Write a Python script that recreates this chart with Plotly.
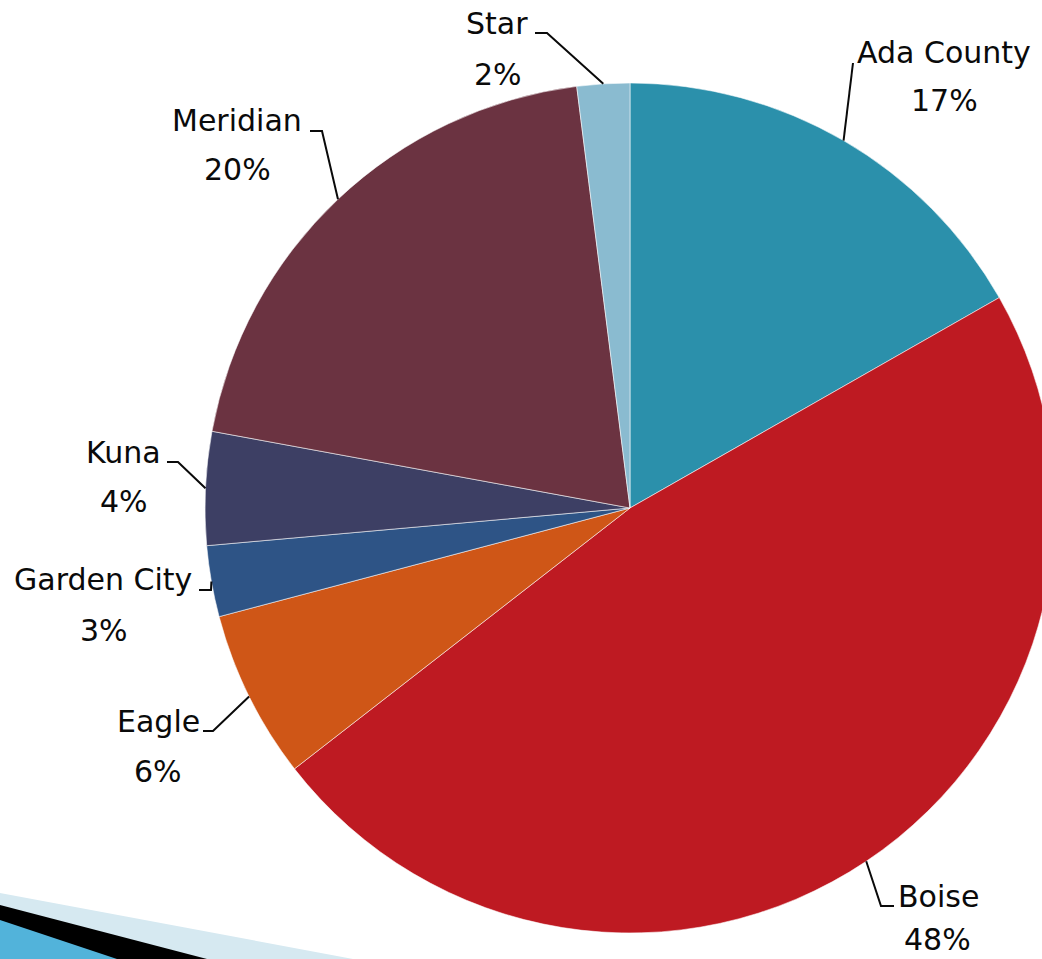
import math
import plotly.graph_objects as go

# ---- data ----
categories = ["Ada County", "Boise", "Eagle", "Garden City", "Kuna", "Meridian", "Star"]
values = [16.75, 47.7, 6.4, 2.7, 4.3, 20.1, 2.0]
colors = ["#2B90AB", "#BE1A22", "#CF5617", "#2E5486", "#3D3F64", "#6B3341", "#8ABBD0"]

# ---- layout geometry (pixels) ----
W, H = 1055, 959
CX, CY, R = 630, 508, 425  # pie centre / radius in page pixels (top-left origin)

# label placement: (label centre, percent centre, leader start, elbow or None)
label_pos = {
    "Ada County": ((944, 52), (944, 101), (853, 63), None),
    "Boise": ((938, 896), (937, 939), (894, 906), (881, 906)),
    "Eagle": ((158, 721), (158, 771), (203, 731), (213, 731)),
    "Garden City": ((103, 579), (104, 630), (199, 590), (211, 590)),
    "Kuna": ((123, 452), (124, 501), (167, 462), (178, 462)),
    "Meridian": ((237, 121), (237, 169), (310, 131), (322, 131)),
    "Star": ((497, 24), (498, 74), (535, 33), (547, 33)),
}


def fx(x):
    return x / W


def fy(y):
    return 1 - y / H


fig = go.Figure()
fig.add_trace(go.Pie(
    labels=categories,
    values=values,
    sort=False,
    direction="clockwise",
    rotation=0,
    marker=dict(colors=colors, line=dict(color="rgba(255,255,255,0.55)", width=1)),
    textinfo="none",
    hoverinfo="label+percent",
    showlegend=False,
    domain=dict(x=[fx(CX - R), fx(CX + R)], y=[fy(CY + R), fy(CY - R)]),
))

total = sum(values)
annotations = []
shapes = []
cum = 0.0
font = dict(family="DejaVu Sans", size=30, color="#0a0a0a")
for cat, v in zip(categories, values):
    mid = (cum + v / 2) / total * 2 * math.pi
    cum += v
    ax = CX + R * math.sin(mid)
    ay = CY - R * math.cos(mid)
    (lx, ly), (px, py), start, elbow = label_pos[cat]
    pct = f"{round(v / total * 100)}%"
    annotations.append(dict(x=fx(lx), y=fy(ly), xref="paper", yref="paper", text=cat,
                            showarrow=False, font=font, xanchor="center", yanchor="middle"))
    annotations.append(dict(x=fx(px), y=fy(py), xref="paper", yref="paper", text=pct,
                            showarrow=False, font=font, xanchor="center", yanchor="middle",
                            borderpad=0))
    pts = [start] + ([elbow] if elbow else []) + [(ax, ay)]
    path = "M " + " L ".join(f"{fx(x):.5f},{fy(y):.5f}" for x, y in pts)
    shapes.append(dict(type="path", path=path, xref="paper", yref="paper",
                       line=dict(color="#0a0a0a", width=2)))

# decorative bottom-left ribbon
deco = [
    ("#D6E9F1", [(0, 893), (353, 959), (0, 959)]),
    ("#000000", [(0, 905), (207, 959), (0, 959)]),
    ("#52B3DA", [(0, 920), (117, 959), (0, 959)]),
]
for col, pts in deco:
    path = "M " + " L ".join(f"{fx(x):.5f},{fy(y):.5f}" for x, y in pts) + " Z"
    shapes.append(dict(type="path", path=path, xref="paper", yref="paper",
                       fillcolor=col, line=dict(width=0), layer="below"))

fig.update_layout(
    width=W, height=H, autosize=False,
    margin=dict(l=0, r=0, t=0, b=0),
    paper_bgcolor="white", plot_bgcolor="white",
    annotations=annotations, shapes=shapes,
)

fig.write_html(
    "out.html",
    post_script="document.documentElement.style.overflow='hidden';document.body.style.overflow='hidden';document.body.style.margin='0';",
)
